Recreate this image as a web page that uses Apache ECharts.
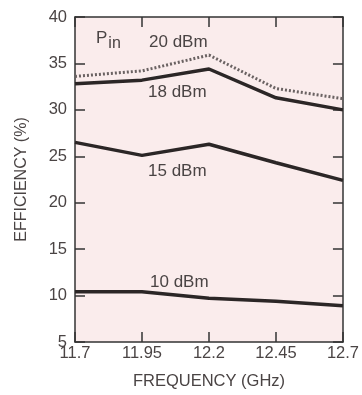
<!DOCTYPE html>
<html><head><meta charset="utf-8">
<script src="https://cdn.jsdelivr.net/npm/echarts@6/dist/echarts.min.js"></script>
<style>html,body{margin:0;padding:0;background:#fff}#c{width:362px;height:395px}</style>
</head><body><div id="c"></div>
<script>
var freqs = ['11.7', '11.95', '12.2', '12.45', '12.7'];
var pin20 = [33.6, 34.2, 35.9, 32.3, 31.2];
var pin18 = [32.8, 33.2, 34.4, 31.3, 30.0];
var pin15 = [26.5, 25.1, 26.3, 24.3, 22.4];
var pin10 = [10.4, 10.4, 9.7, 9.4, 8.9];
var yTicks = [5, 10, 15, 20, 25, 30, 35, 40];

var chart = echarts.init(document.getElementById('c'));
var txt = '#4a4444';
var ff = 'Liberation Sans';
var axisLine = {show: true, lineStyle: {color: '#333', width: 1.5}};
var tick = {show: true, inside: true, length: 10, lineStyle: {color: '#333', width: 1.5}};
function line(name, data, style) {
  return {name: name, type: 'line', data: data, symbol: 'none', smooth: false,
    lineStyle: style, z: 3};
}
chart.setOption({
  animation: false,
  grid: {left: 75, right: 10, top: 17, bottom: 52, show: true, backgroundColor: '#faecec', borderWidth: 0},
  xAxis: [{
    type: 'category', data: freqs, boundaryGap: false, position: 'bottom',
    axisLine: axisLine, axisTick: tick,
    axisLabel: {color: txt, fontSize: 16.5, fontFamily: ff, margin: 3, showMinLabel: true, showMaxLabel: true, interval: 0},
    splitLine: {show: false},
    name: 'FREQUENCY (GHz)', nameLocation: 'middle', nameGap: 31,
    nameTextStyle: {color: txt, fontSize: 16.5, fontFamily: ff}
  }, {
    type: 'category', data: freqs, boundaryGap: false, position: 'top',
    axisLine: axisLine, axisTick: tick, axisLabel: {show: false}, splitLine: {show: false}
  }],
  yAxis: [{
    type: 'value', min: 5, max: 40, interval: 5, position: 'left',
    axisLine: axisLine, axisTick: tick,
    axisLabel: {color: txt, fontSize: 16.5, fontFamily: ff, margin: 8},
    splitLine: {show: false},
    name: 'EFFICIENCY (%)', nameLocation: 'middle', nameGap: 45, nameRotate: 90,
    nameTextStyle: {color: txt, fontSize: 16, fontFamily: ff}
  }, {
    type: 'value', min: 5, max: 40, interval: 5, position: 'right',
    axisLine: axisLine, axisTick: tick, axisLabel: {show: false}, splitLine: {show: false}
  }],
  series: [
    line('20 dBm', pin20, {color: '#6a6262', width: 3, type: [2, 2]}),
    line('18 dBm', pin18, {color: '#2b2626', width: 3.5}),
    line('15 dBm', pin15, {color: '#2b2626', width: 3.5}),
    line('10 dBm', pin10, {color: '#2b2626', width: 3.5})
  ],
  graphic: [
    {type: 'text', left: 96, top: 30, style: {text: '{p|P}{s|in}', rich: {
      p: {fontSize: 17, fill: txt, fontFamily: ff},
      s: {fontSize: 16, fill: txt, fontFamily: ff, padding: [10, 0, 0, 1]}}}},
    {type: 'text', left: 149, top: 34, style: {text: '20 dBm', fontSize: 17, fill: txt, fontFamily: ff}},
    {type: 'text', left: 148, top: 84, style: {text: '18 dBm', fontSize: 17, fill: txt, fontFamily: ff}},
    {type: 'text', left: 148, top: 163, style: {text: '15 dBm', fontSize: 17, fill: txt, fontFamily: ff}},
    {type: 'text', left: 150, top: 274, style: {text: '10 dBm', fontSize: 17, fill: txt, fontFamily: ff}}
  ]
});
</script></body></html>
